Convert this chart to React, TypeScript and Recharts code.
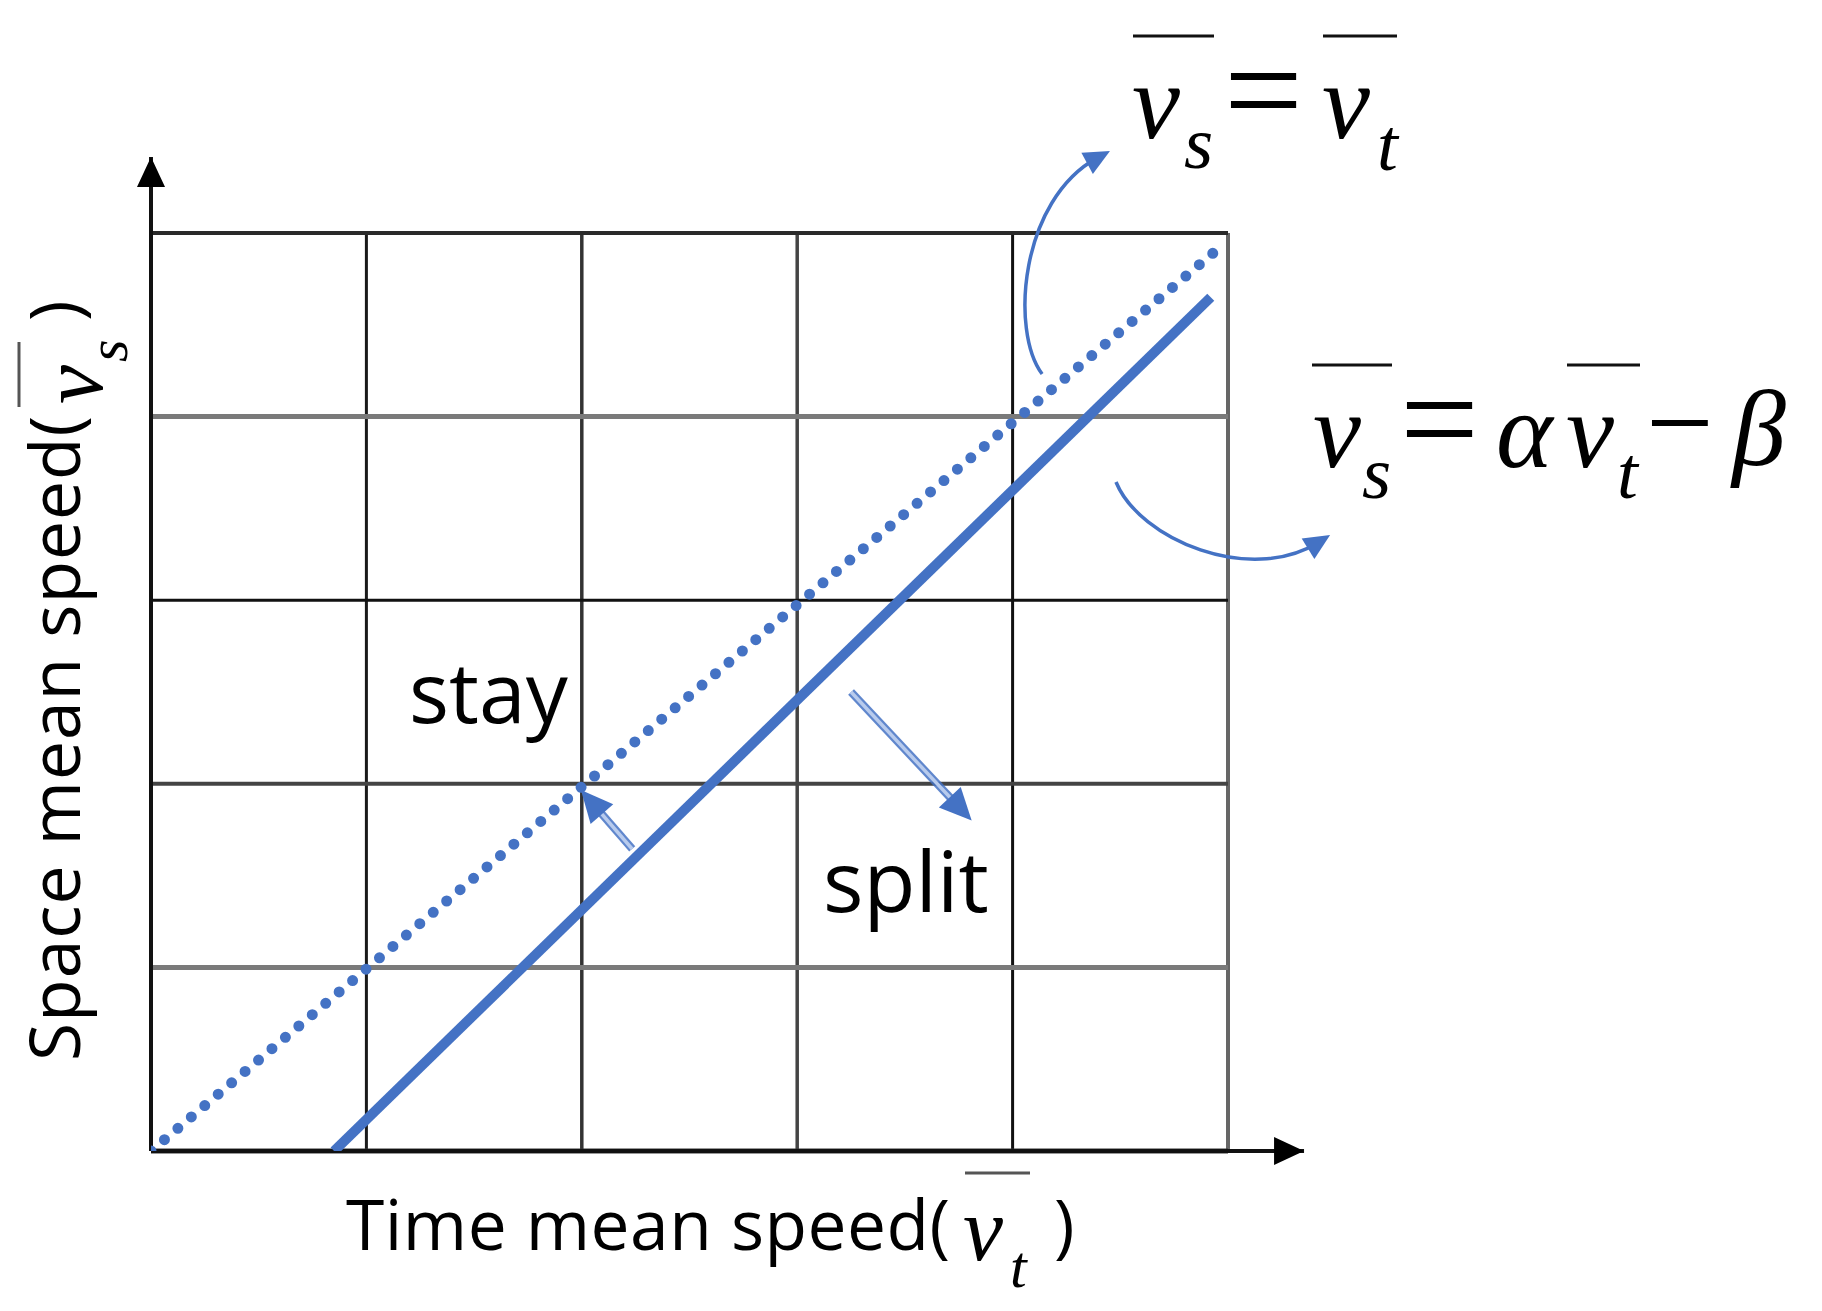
import * as React from "react";
import { LineChart, Line, XAxis, YAxis, ReferenceLine } from "recharts";

// both axes run 0..5 grid cells
const gridTicks = [1, 2, 3, 4, 5];

// v_s = v_t (dotted) and v_s = α v_t − β (solid)
const equalSpeed = [
  { t: 0, s: 0 },
  { t: 4.96, s: 4.92 },
];
const fittedSpeed = [
  { t: 0.85, s: 0 },
  { t: 4.92, s: 4.65 },
];

// annotation arrows in data units: [tail, head]
const stayArrow = [
  { x: 2.234, y: 1.645 },
  { x: 1.996, y: 1.966 },
];
const splitArrow = [
  { x: 3.25, y: 2.5 },
  { x: 3.81, y: 1.8 },
];
// curved callouts: [start, control1, control2, end]
const equalCallout = [
  { x: 4.137, y: 4.232 },
  { x: 3.988, y: 4.466 },
  { x: 4.034, y: 5.18 },
  { x: 4.452, y: 5.447 },
];
const fitCallout = [
  { x: 4.48, y: 3.644 },
  { x: 4.591, y: 3.328 },
  { x: 5.102, y: 3.083 },
  { x: 5.474, y: 3.355 },
];
const xAxisEnd = 5.353;
const yAxisEnd = 5.414;

const BLUE = "#4472C4";
const W = 1822;
const H = 1311;
const SANS = "'Open Sans', 'Noto Sans', sans-serif";
const SERIF = "'Liberation Serif', 'DejaVu Serif', serif";

const vGrid: Record<number, [string, number]> = {
  1: ["#1a1a1a", 3],
  2: ["#333", 3.5],
  3: ["#444", 3.5],
  4: ["#111", 3],
  5: ["#666", 4],
};
const hGrid: Record<number, [string, number]> = {
  1: ["#7a7a7a", 5],
  2: ["#444", 4],
  3: ["#111", 3],
  4: ["#7a7a7a", 5],
  5: ["#2a2a2a", 4],
};

function head(x: number, y: number, fx: number, fy: number, len: number, half: number, fill: string) {
  const a = Math.atan2(y - fy, x - fx);
  const bx = x - len * Math.cos(a);
  const by = y - len * Math.sin(a);
  const nx = -Math.sin(a) * half;
  const ny = Math.cos(a) * half;
  return <path d={`M${x},${y} L${bx + nx},${by + ny} L${bx - nx},${by - ny} Z`} fill={fill} />;
}

function axisArrow(props: any) {
  const { x1, y1, x2, y2 } = props;
  return (
    <g>
      <line x1={x1} y1={y1} x2={x2} y2={y2} stroke="#111" strokeWidth={4} />
      {head(x2, y2, x1, y1, 30, 14, "#000")}
    </g>
  );
}

function hollowArrow(props: any) {
  const { x1, y1, x2, y2 } = props;
  const a = Math.atan2(y2 - y1, x2 - x1);
  const ex = x2 - 24 * Math.cos(a);
  const ey = y2 - 24 * Math.sin(a);
  return (
    <g>
      <line x1={x1} y1={y1} x2={ex} y2={ey} stroke={BLUE} strokeWidth={8} strokeOpacity={0.85} />
      <line x1={x1} y1={y1} x2={ex} y2={ey} stroke="#b8cbed" strokeWidth={3.5} />
      {head(x2, y2, x1, y1, 32, 15, BLUE)}
    </g>
  );
}

function curveArrow(pts: { x: number; y: number }[]) {
  return (props: any) => {
    const { x1, y1, x2, y2 } = props;
    const s = pts[0];
    const e = pts[3];
    const px = (v: number) => x1 + ((v - s.x) / (e.x - s.x)) * (x2 - x1);
    const py = (v: number) => y1 + ((v - s.y) / (e.y - s.y)) * (y2 - y1);
    const c1x = px(pts[1].x);
    const c1y = py(pts[1].y);
    const c2x = px(pts[2].x);
    const c2y = py(pts[2].y);
    const a = Math.atan2(y2 - c2y, x2 - c2x);
    const ex = x2 - 14 * Math.cos(a);
    const ey = y2 - 14 * Math.sin(a);
    return (
      <g>
        <path
          d={`M${x1},${y1} C${c1x},${c1y} ${c2x},${c2y} ${ex},${ey}`}
          fill="none"
          stroke={BLUE}
          strokeWidth={3.5}
        />
        {head(x2, y2, c2x, c2y, 26, 12, BLUE)}
      </g>
    );
  };
}

function Labels() {
  return (
    <svg width={W} height={H} style={{ position: "absolute", left: 0, top: 0, pointerEvents: "none" }}>
      {/* v_s = v_t */}
      <g fill="#000" fontFamily={SERIF}>
        <line x1={1133} y1={36} x2={1214} y2={36} stroke="#111" strokeWidth={3} />
        <line x1={1323} y1={36} x2={1397} y2={36} stroke="#111" strokeWidth={3} />
        <text x={1132} y={138} fontSize={108} fontStyle="italic">v</text>
        <text x={1184} y={168} fontSize={75} fontStyle="italic">s</text>
        <text x={1224} y={137} fontSize={140}>=</text>
        <text x={1322} y={138} fontSize={108} fontStyle="italic">v</text>
        <text x={1377} y={170} fontSize={75} fontStyle="italic">t</text>
      </g>
      {/* v_s = α v_t − β */}
      <g fill="#000" fontFamily={SERIF}>
        <line x1={1312} y1={365} x2={1392} y2={365} stroke="#111" strokeWidth={3} />
        <line x1={1567} y1={365} x2={1640} y2={365} stroke="#111" strokeWidth={3} />
        <text x={1313} y={467} fontSize={108} fontStyle="italic">v</text>
        <text x={1362} y={498} fontSize={75} fontStyle="italic">s</text>
        <text x={1400} y={466} fontSize={140}>=</text>
        <text x={1496} y={467} fontSize={108} fontStyle="italic">α</text>
        <text x={1566} y={467} fontSize={108} fontStyle="italic">v</text>
        <text x={1617} y={498} fontSize={75} fontStyle="italic">t</text>
        <text x={1646} y={463} fontSize={120}>−</text>
        <text x={1732} y={465} fontSize={108} fontStyle="italic">β</text>
      </g>
      {/* x label */}
      <text x={346} y={1250} fontSize={69.5} letterSpacing={0.5} fontFamily={SANS} fill="#000">Time mean speed(</text>
      <line x1={965} y1={1173} x2={1030} y2={1173} stroke="#555" strokeWidth={3} />
      <text x={963} y={1260} fontSize={90} fontFamily={SERIF} fontStyle="italic" fill="#000">v</text>
      <text x={1010} y={1287} fontSize={60} fontFamily={SERIF} fontStyle="italic" fill="#000">t</text>
      <text x={1054} y={1250} fontSize={69.5} fontFamily={SANS} fill="#000">)</text>
      {/* y label */}
      <g transform="rotate(-90)">
        <text x={-1061} y={80} fontSize={69.5} letterSpacing={1} fontFamily={SANS} fill="#000">Space mean speed(</text>
        <line x1={-407} y1={19} x2={-342} y2={19} stroke="#555" strokeWidth={3} />
        <text x={-404} y={102} fontSize={88} fontFamily={SERIF} fontStyle="italic" fill="#000">v</text>
        <text x={-362} y={127} fontSize={58} fontFamily={SERIF} fontStyle="italic" fill="#000">s</text>
        <text x={-321} y={80} fontSize={69.5} fontFamily={SANS} fill="#000">)</text>
      </g>
      {/* regions */}
      <text x={409} y={723} fontSize={84} fontFamily={SANS} fill="#000">stay</text>
      <text x={823} y={912} fontSize={85} fontFamily={SANS} fill="#000">split</text>
    </svg>
  );
}

export default function App(): React.JSX.Element {
  return (
    <div style={{ position: "absolute", left: 0, top: 0, width: W, height: H, background: "#fff" }}>
      <LineChart width={W} height={H} margin={{ top: 233, right: W - 1228, bottom: H - 1151, left: 151 }}>
        <XAxis type="number" dataKey="t" domain={[0, 5]} allowDataOverflow hide />
        <YAxis type="number" dataKey="s" domain={[0, 5]} allowDataOverflow hide />
        {gridTicks.map((v) => (
          <ReferenceLine key={`vx${v}`} x={v} stroke={vGrid[v][0]} strokeWidth={vGrid[v][1]} ifOverflow="visible" />
        ))}
        {gridTicks.map((v) => (
          <ReferenceLine key={`hy${v}`} y={v} stroke={hGrid[v][0]} strokeWidth={hGrid[v][1]} ifOverflow="visible" />
        ))}
        <ReferenceLine
          segment={[{ x: 0, y: 0 }, { x: 5, y: 0 }]}
          stroke="#333"
          strokeWidth={5}
          ifOverflow="visible"
        />
        <ReferenceLine
          segment={[{ x: 0, y: 0 }, { x: xAxisEnd, y: 0 }]}
          shape={axisArrow}
          ifOverflow="visible"
        />
        <ReferenceLine
          segment={[{ x: 0, y: 0 }, { x: 0, y: yAxisEnd }]}
          shape={axisArrow}
          ifOverflow="visible"
        />
        <Line
          data={equalSpeed}
          dataKey="s"
          stroke={BLUE}
          strokeWidth={11}
          strokeDasharray="0 17.6"
          strokeLinecap="round"
          dot={false}
          activeDot={false}
          isAnimationActive={false}
        />
        <Line
          data={fittedSpeed}
          dataKey="s"
          stroke={BLUE}
          strokeWidth={10}
          dot={false}
          activeDot={false}
          isAnimationActive={false}
        />
        <ReferenceLine segment={stayArrow} shape={hollowArrow} ifOverflow="visible" />
        <ReferenceLine segment={splitArrow} shape={hollowArrow} ifOverflow="visible" />
        <ReferenceLine
          segment={[equalCallout[0], equalCallout[3]]}
          shape={curveArrow(equalCallout)}
          ifOverflow="visible"
        />
        <ReferenceLine
          segment={[fitCallout[0], fitCallout[3]]}
          shape={curveArrow(fitCallout)}
          ifOverflow="visible"
        />
      </LineChart>
      <Labels />
    </div>
  );
}
